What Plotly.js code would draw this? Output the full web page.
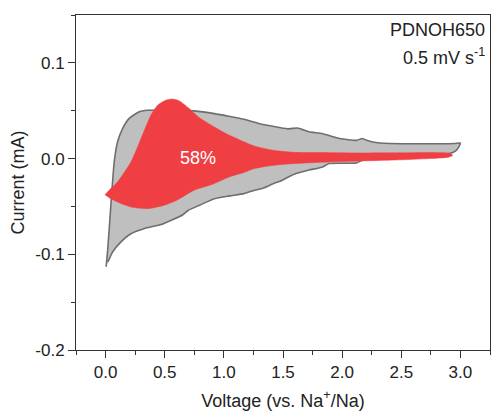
<!DOCTYPE html>
<html>
<head>
<meta charset="utf-8">
<script src="https://cdn.plot.ly/plotly-3.0.1.min.js"></script>
<style>html,body{margin:0;padding:0;background:#fff;}#chart{width:492px;height:413px;}</style>
</head>
<body>
<div id="chart"></div>
<script>
// Total CV loop (gray): anodic branch (left to right), then cathodic branch (right to left)
const totalAnodicV = [0.005, 0.018, 0.031, 0.051, 0.073, 0.101, 0.144, 0.2, 0.285, 0.355, 0.47, 0.6, 0.75, 0.92, 1.05, 1.17, 1.33, 1.45, 1.55, 1.62, 1.66, 1.72, 1.835, 1.98, 2.12, 2.17, 2.2, 2.26, 2.4, 2.6, 2.8, 2.95, 3.0];
const totalAnodicI = [-0.113, -0.095, -0.073, -0.038, -0.0036, 0.0174, 0.0314, 0.042, 0.049, 0.0505, 0.0508, 0.0505, 0.0498, 0.047, 0.044, 0.041, 0.0355, 0.033, 0.031, 0.032, 0.0305, 0.028, 0.026, 0.021, 0.019, 0.021, 0.0195, 0.0174, 0.0157, 0.0155, 0.0155, 0.0158, 0.0163];
const totalCathodicV = [2.99, 2.96, 2.9, 2.74, 2.45, 2.17, 2.12, 1.89, 1.835, 1.72, 1.61, 1.55, 1.47, 1.43, 1.33, 1.26, 1.17, 1.05, 0.92, 0.79, 0.70, 0.65, 0.555, 0.47, 0.33, 0.214, 0.13, 0.059, 0.02];
const totalCathodicI = [0.013, 0.008, 0.005, 0.003, 0.0017, -0.0018, -0.0046, -0.0052, -0.0087, -0.012, -0.0157, -0.019, -0.024, -0.0255, -0.031, -0.033, -0.0366, -0.039, -0.042, -0.049, -0.054, -0.059, -0.0645, -0.069, -0.073, -0.0785, -0.087, -0.0977, -0.108];

// Capacitive contribution loop (red)
const capUpperV = [-0.006, 0.03, 0.10, 0.214, 0.30, 0.383, 0.44, 0.50, 0.56, 0.62, 0.70, 0.79, 0.92, 1.02, 1.09, 1.16, 1.26, 1.43, 1.6, 1.9, 2.2, 2.5, 2.8, 2.9, 2.935];
const capUpperI = [-0.038, -0.033, -0.0245, -0.0036, 0.021, 0.0453, 0.0557, 0.0605, 0.0622, 0.0605, 0.053, 0.043, 0.033, 0.026, 0.022, 0.018, 0.013, 0.0085, 0.0065, 0.0062, 0.0059, 0.006, 0.0062, 0.0058, 0.0035];
const capLowerV = [2.9, 2.74, 2.45, 2.17, 1.89, 1.6, 1.43, 1.33, 1.26, 1.17, 1.05, 0.9, 0.75, 0.61, 0.496, 0.355, 0.214, 0.101, 0.03];
const capLowerI = [0.0015, 0.0, -0.0015, -0.0025, -0.0035, -0.0052, -0.007, -0.0087, -0.0105, -0.0145, -0.019, -0.027, -0.033, -0.043, -0.0488, -0.0523, -0.0506, -0.0454, -0.041];

const xTickVals = [0, 0.5, 1, 1.5, 2, 2.5, 3];
const xTickText = ["0.0", "0.5", "1.0", "1.5", "2.0", "2.5", "3.0"];
const yTickVals = [-0.2, -0.1, 0, 0.1];
const yTickText = ["-0.2", "-0.1", "0.0", "0.1"];

const sampleLabel = "PDNOH650";
const rateLabel = "0.5 mV s<sup>-1</sup>";
const capLabel = "58%";

const FONT = '"Liberation Sans", Arial, sans-serif';

const traces = [
  {
    x: totalAnodicV.concat(totalCathodicV),
    y: totalAnodicI.concat(totalCathodicI),
    mode: 'lines', fill: 'toself', fillcolor: '#bfbfbf',
    line: {color: '#6e6e6e', width: 1.6, shape: 'spline', smoothing: 0.5},
    hoverinfo: 'skip', showlegend: false
  },
  {
    x: capUpperV.concat(capLowerV),
    y: capUpperI.concat(capLowerI),
    mode: 'lines', fill: 'toself', fillcolor: '#ef3f43',
    line: {color: '#ef3f43', width: 0.5, shape: 'spline', smoothing: 0.7},
    hoverinfo: 'skip', showlegend: false
  }
];

const axisCommon = {
  showline: true, mirror: true, linecolor: '#333', linewidth: 1,
  showgrid: false, zeroline: false, ticks: 'outside', ticklen: 7, tickwidth: 1, tickcolor: '#333',
  tickfont: {family: FONT, size: 17, color: '#222'}
};

const layout = {
  width: 492, height: 413,
  margin: {l: 76, r: 2, t: 15, b: 63},
  paper_bgcolor: '#fff', plot_bgcolor: '#fff',
  font: {family: FONT, color: '#222'},
  xaxis: Object.assign({}, axisCommon, {
    range: [-0.25, 3.25], tickmode: 'array', tickvals: xTickVals, ticktext: xTickText,
    minor: {tickmode: 'linear', tick0: 0, dtick: 0.25, ticks: 'outside', ticklen: 4, tickcolor: '#333', showgrid: false},
    title: {text: 'Voltage (vs. Na<sup>+</sup>/Na)', font: {family: FONT, size: 18, color: '#222'}, standoff: 12}
  }),
  yaxis: Object.assign({}, axisCommon, {
    range: [-0.2, 0.15], tickmode: 'array', tickvals: yTickVals, ticktext: yTickText,
    minor: {tickmode: 'linear', tick0: 0, dtick: 0.05, ticks: 'outside', ticklen: 4, tickcolor: '#333', showgrid: false},
    title: {text: 'Current (mA)', font: {family: FONT, size: 18, color: '#222'}, standoff: 6}
  }),
  annotations: [
    {xref: 'paper', yref: 'paper', x: 0.993, y: 0.955, xanchor: 'right', yanchor: 'middle', showarrow: false,
     text: sampleLabel, font: {family: FONT, size: 18, color: '#222'}},
    {xref: 'paper', yref: 'paper', x: 0.993, y: 0.877, xanchor: 'right', yanchor: 'middle', showarrow: false,
     text: rateLabel, font: {family: FONT, size: 18, color: '#222'}},
    {xref: 'x', yref: 'y', x: 0.78, y: 0.001, showarrow: false,
     text: capLabel, font: {family: FONT, size: 18, color: '#ffffff'}}
  ]
};

Plotly.newPlot('chart', traces, layout, {displayModeBar: false, staticPlot: true});
</script>
</body>
</html>
